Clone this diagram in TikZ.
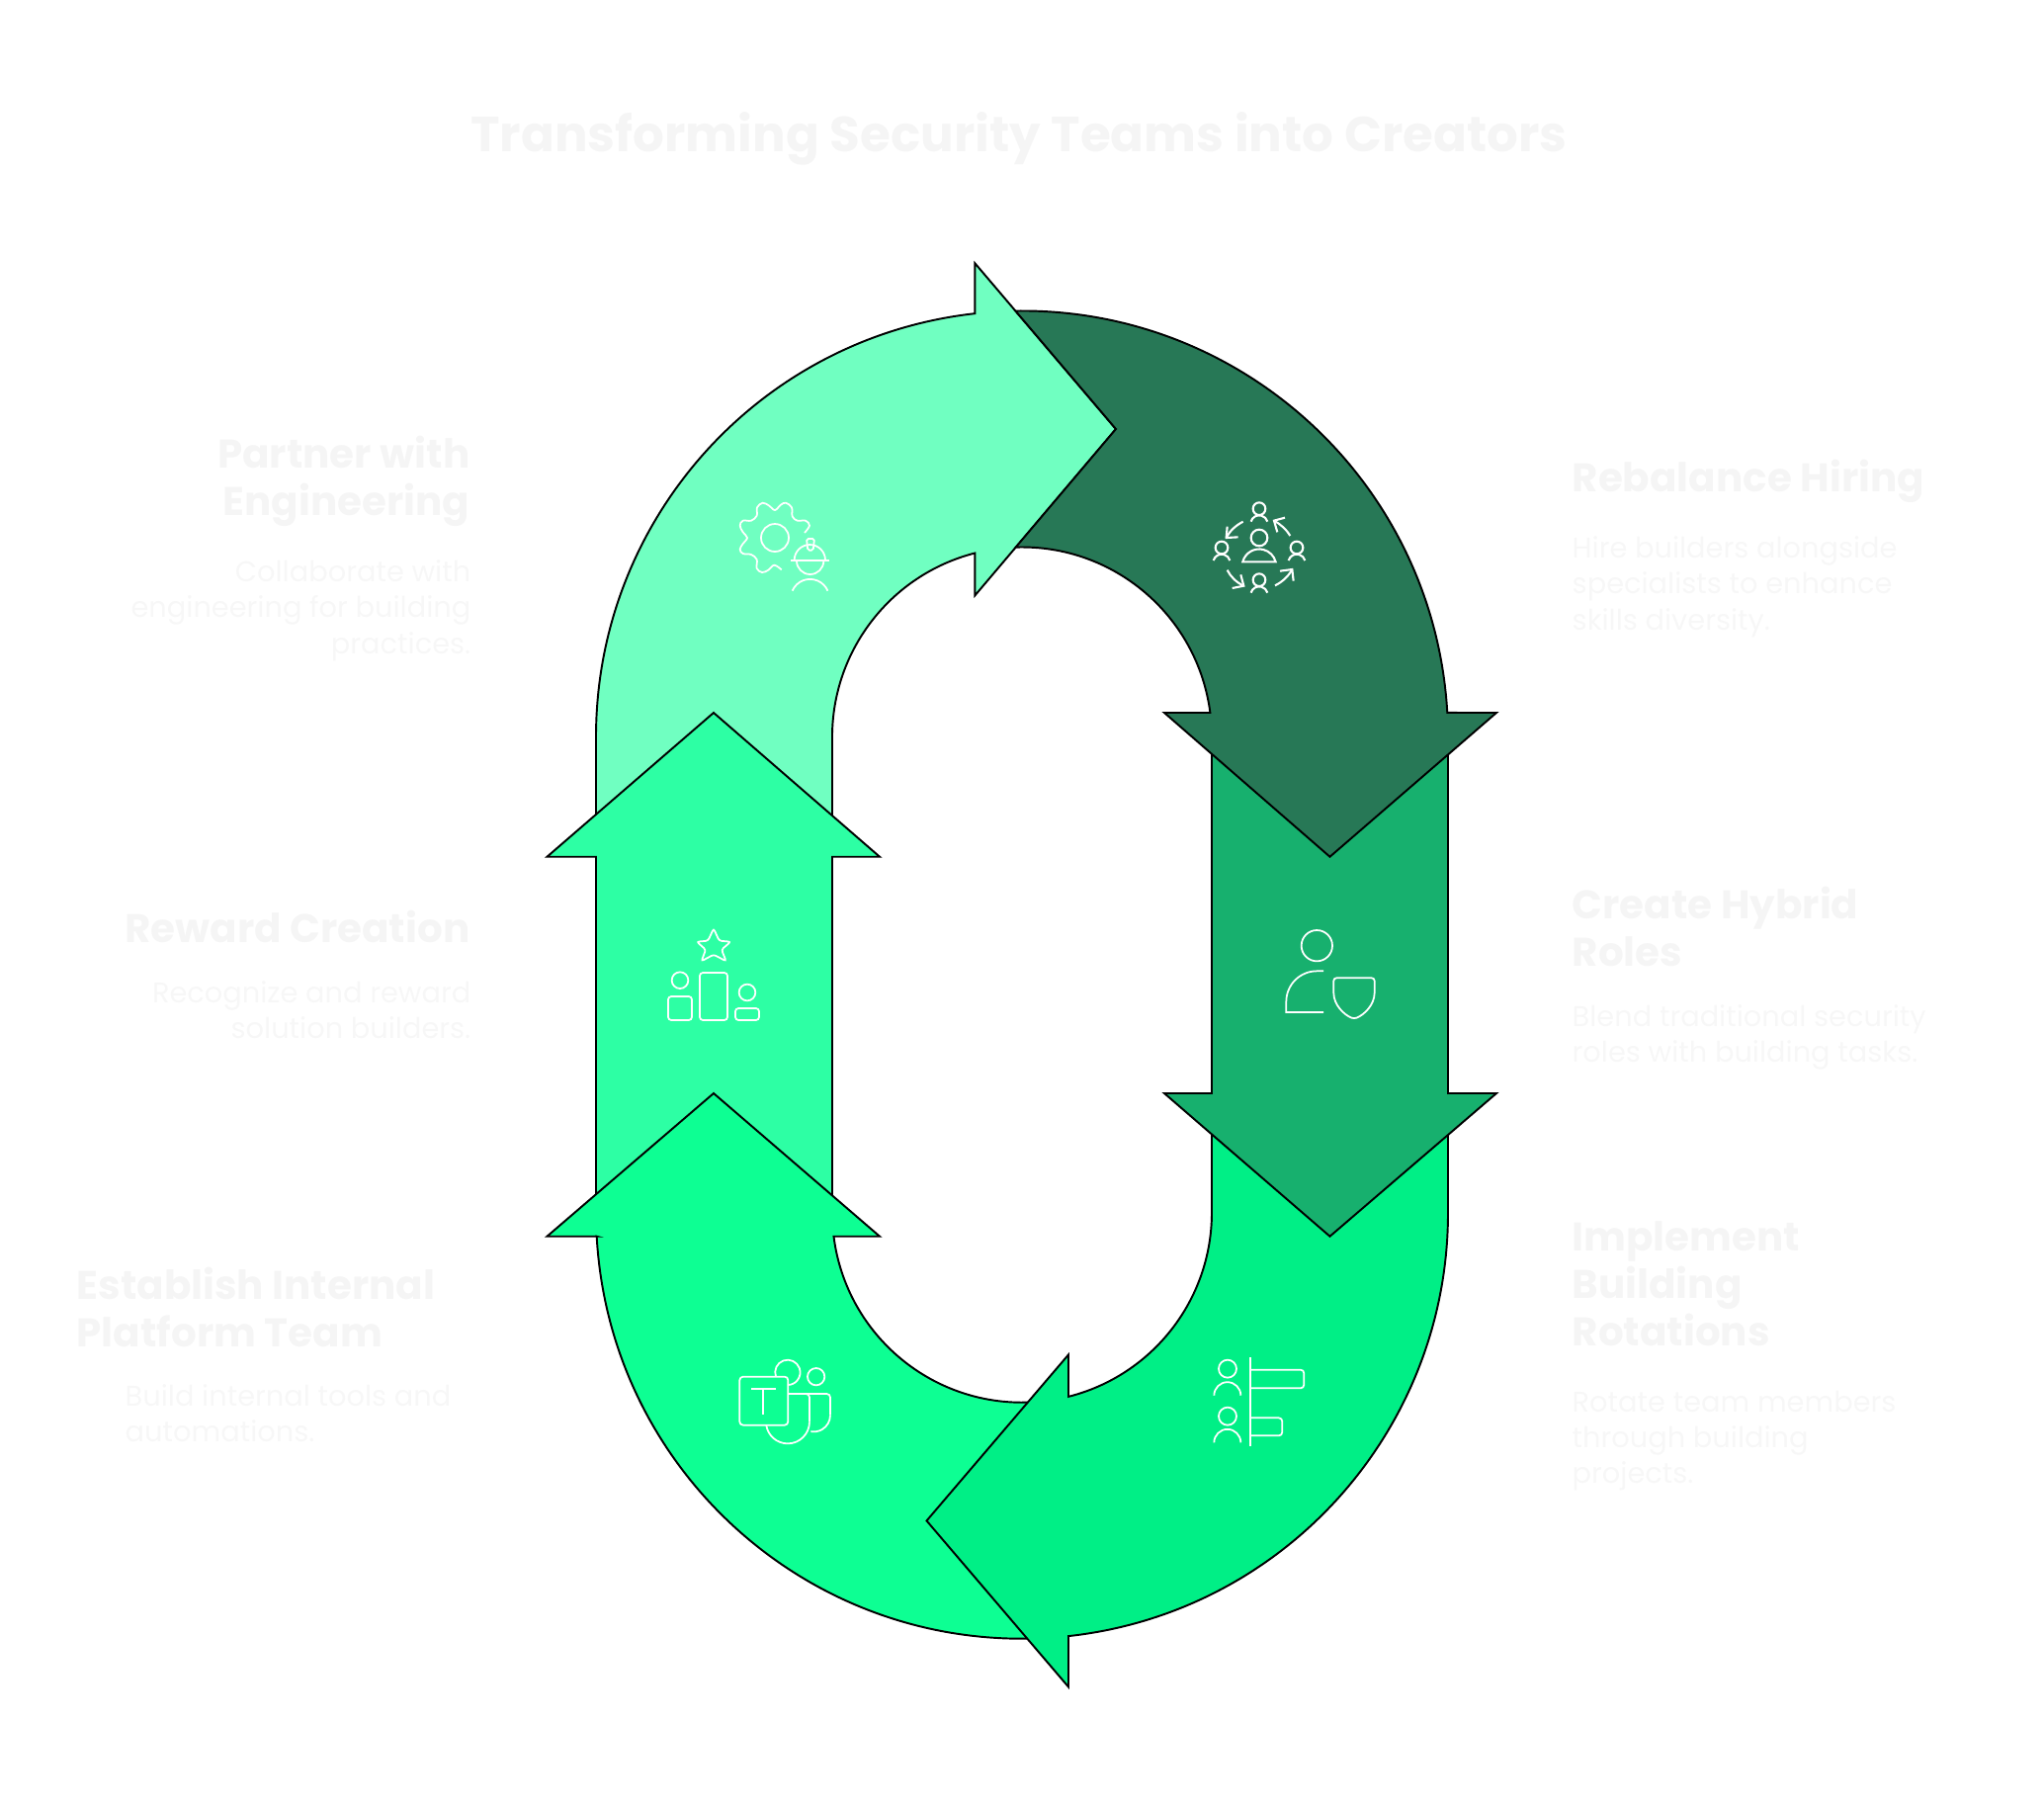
\documentclass[tikz,border=0pt]{standalone}
\usepackage{fontspec}
\setmainfont{Poppins}
\definecolor{partnercol}{HTML}{70FFC1}
\definecolor{rebalancecol}{HTML}{277856}
\definecolor{hybridcol}{HTML}{17B06E}
\definecolor{implementcol}{HTML}{00EF86}
\definecolor{establishcol}{HTML}{0DFF93}
\definecolor{rewardcol}{HTML}{2DFFA4}
\definecolor{faintcol}{HTML}{F5F5F5}
\definecolor{faintercol}{HTML}{F7F7F7}
\tikzset{
  band/.style={draw=black,line width=0.55pt,line join=miter,miter limit=20},
  icon/.style={draw=white,line width=0.5pt,fill=none},
  headtext/.style={inner sep=0pt,text=faintcol,font=\bfseries\fontsize{11.5}{13.66}\selectfont},
  desctext/.style={inner sep=0pt,text=faintercol,font=\fontsize{8.2}{10.3}\selectfont},
}
\begin{document}
\begin{tikzpicture}[x=0.01cm,y=-0.01cm]
      % Bounding box
      \path (0,0) rectangle (2068,1829);

      \draw (1031,140) node (title)[text=faintcol,inner sep=0pt,font=\bfseries\fontsize{14.2}{16}\selectfont] {Transforming Security Teams into Creators};

      % Bands, each one over the one it points at
      \draw [band,fill=partnercol] (603,833) -- (603,745.5) arc[start angle=180,end angle=263.66,radius=431]
        -- (986.4,266.3) -- (1129,434) -- (986.4,602.4) -- (986.4,559.5) arc[start angle=255.65,end angle=180,radius=192]
        -- (842,833) -- cycle;
      \draw [band,fill=rewardcol] (603,1217) -- (603,866.7) -- (553.5,866.7) -- (722,721) -- (890,866.7) -- (842,866.7) -- (842,1217) -- cycle;
      \draw [band,fill=establishcol] (603.7,1250.7) -- (553.5,1250.7) -- (722,1106) -- (890,1250.7) -- (843.5,1250.7)
        arc[start angle=172.82,end angle=86.12,radius=192] -- (1047,1657.5) arc[start angle=88.27,end angle=176.81,radius=431] -- cycle;
      \draw [band,fill=implementcol] (1226,1142) -- (1226,1226.7) arc[start angle=0,end angle=75.83,radius=192]
        -- (1081,1370.4) -- (937.5,1538.4) -- (1081,1706.5) -- (1081,1655.1) arc[start angle=83.74,end angle=0,radius=431]
        -- (1465,1142) -- cycle;
      \draw [band,fill=hybridcol] (1226,758) -- (1226,1106) -- (1178,1106) -- (1345.5,1250.7) -- (1514,1106) -- (1465,1106) -- (1465,758) -- cycle;
      \draw [band,fill=rebalancecol] (1027.4,314.5) arc[start angle=269.12,end angle=356.74,radius=431]
        -- (1514,721) -- (1345.5,866.7) -- (1178,721) -- (1224.4,721) arc[start angle=352.67,end angle=268.12,radius=192]
        -- (1129,434) -- cycle;

      % Gear and worker
      \begin{scope}[shift={(700,460)},scale=1/3]
        \draw [icon] plot[smooth,tension=0.6] coordinates {(342,237) (357,215) (345,200) (320,200) (305,187) (303,160) (285,146) (270,152) (252,168) (235,155) (215,146) (198,160) (197,185) (180,200) (155,200) (146,215) (155,235) (168,252) (155,270) (146,287) (155,300) (180,303) (197,318) (197,345) (213,357) (232,350) (250,335) (272,349)};
        \draw [icon] (252,252) circle (42);
        \draw [icon] (311,320) arc[start angle=180,end angle=360,radius=47];
        \draw [icon] (300,320) -- (417,320);
        \draw [icon] (318,322) arc[start angle=180,end angle=0,radius=41];
        \draw [icon,rounded corners=0.5pt] (348,255) -- (372,255) -- (368,290) -- (352,290) -- cycle;
        \draw [icon] (305,413) arc[start angle=203.2,end angle=336.8,radius=58.4];
      \end{scope}

      % People in a ring
      \begin{scope}[shift={(1200,480)},scale=1/3]
        \draw [icon,line width=0.6pt] (222,192) circle (25);
        \draw [icon,line width=0.6pt] (172,265) arc[start angle=194.6,end angle=345.4,radius=51.6] -- cycle;
        \foreach \px/\py in {222/104,108/222,336/222,222/320}{
          \draw [icon,line width=0.6pt] (\px,\py) circle (19);
          \draw [icon,line width=0.6pt] ({\px-25},{\py+39}) arc[start angle=195.6,end angle=344.4,radius=26];
        }
        \draw [icon,line width=0.6pt] (173,143) .. controls (150,155) and (132,172) .. (122,192);
        \draw [icon,line width=0.6pt] (125,158) -- (122,192) -- (158,190);
        \draw [icon,line width=0.6pt] (125,290) .. controls (135,310) and (152,327) .. (175,338);
        \draw [icon,line width=0.6pt] (140,345) -- (175,338) -- (166,304);
        \draw [icon,line width=0.6pt] (270,337) .. controls (292,326) and (310,310) .. (322,288);
        \draw [icon,line width=0.6pt] (285,293) -- (322,288) -- (326,323);
        \draw [icon,line width=0.6pt] (316,186) .. controls (305,167) and (288,152) .. (267,140);
        \draw [icon,line width=0.6pt] (300,131) -- (267,140) -- (277,175);
      \end{scope}

      % Podium
      \begin{scope}[shift={(640,920)},scale=1/3]
        \draw [icon,rounded corners=0.7pt] (246,58) -- (263,95) -- (298,98) -- (270,122) -- (284,157) -- (246,137) -- (209,157) -- (222,122) -- (195,98) -- (229,95) -- cycle;
        \draw [icon] (144,215) circle (25);
        \draw [icon] (348,252) circle (25);
        \draw [icon,rounded corners=0.9pt] (108,264) rectangle (180,336);
        \draw [icon,rounded corners=0.9pt] (204,192) rectangle (288,336);
        \draw [icon,rounded corners=0.9pt] (312,300) rectangle (384,336);
      \end{scope}

      % Person and shield
      \begin{scope}[shift={(1280,920)},scale=1/3]
        \draw [icon] (157,110) circle (47);
        \draw [icon] (177,187) -- (157,187) arc[start angle=270,end angle=180,radius=93] -- (64,312) -- (177,312);
        \draw [icon,rounded corners=0.8pt] (208,208) -- (332,208) -- (332,245) .. controls (332,290) and (300,320) .. (270,332) .. controls (240,320) and (208,290) .. (208,245) -- cycle;
      \end{scope}

      % Teams logo
      \begin{scope}[shift={(720,1360)},scale=1/3]
        \draw [icon,rounded corners=1pt] (85,98) rectangle (232,245);
        \draw [icon] (120,136) -- (195,136);
        \draw [icon] (157,136) -- (157,212);
        \draw [icon] (195,98) arc[start angle=160,end angle=450,radius=38];
        \draw [icon] (317,98) circle (26);
        \draw [icon,rounded corners=1pt] (232,150) -- (297,150) -- (297,235);
        \draw [icon] (297,235) arc[start angle=0,end angle=171,radius=66];
        \draw [icon,rounded corners=1pt] (285,150) -- (360,150) -- (360,215);
        \draw [icon] (360,215) arc[start angle=0,end angle=100,radius=50];
      \end{scope}

      % People and bars
      \begin{scope}[shift={(1210,1350)},scale=1/3]
        \draw [icon] (165,70) -- (165,340);
        \draw [icon,rounded corners=1pt] (165,107) -- (328,107) -- (328,163) -- (165,163);
        \draw [icon,rounded corners=1pt] (165,253) -- (262,253) -- (262,307) -- (165,307);
        \draw [icon] (96,104) circle (27);
        \draw [icon] (55,185) arc[start angle=180,end angle=360,radius=40.5];
        \draw [icon] (96,248) circle (27);
        \draw [icon] (55,328) arc[start angle=180,end angle=360,radius=40.5];
      \end{scope}

      \draw (476,440) node (partnerhead)[headtext,anchor=north east,align=right] {Partner with\\Engineering};
      \draw (477,566) node (partnerdesc)[desctext,anchor=north east,align=right] {Collaborate with\\engineering for building\\practices.};

      \draw (476,920) node (rewardhead)[headtext,anchor=north east,align=right] {Reward Creation};
      \draw (477,992) node (rewarddesc)[desctext,anchor=north east,align=right] {Recognize and reward\\solution builders.};

      \draw (77,1281) node (establishhead)[headtext,anchor=north west,align=left] {Establish Internal\\Platform Team};
      \draw (126,1400) node (establishdesc)[desctext,anchor=north west,align=left] {Build internal tools and\\automations.};

      \draw (1590,464) node (rebalancehead)[headtext,anchor=north west,align=left] {Rebalance Hiring};
      \draw (1590,542) node (rebalancedesc)[desctext,anchor=north west,align=left] {Hire builders alongside\\specialists to enhance\\skills diversity.};

      \draw (1590,896) node (hybridhead)[headtext,anchor=north west,align=left] {Create Hybrid\\Roles};
      \draw (1590,1016) node (hybriddesc)[desctext,anchor=north west,align=left] {Blend traditional security\\roles with building tasks.};

      \draw (1590,1235) node (implementhead)[headtext,anchor=north west,align=left] {Implement\\Building\\Rotations};
      \draw (1590,1406) node (implementdesc)[desctext,anchor=north west,align=left] {Rotate team members\\through building\\projects.};
    \end{tikzpicture}
\end{document}
